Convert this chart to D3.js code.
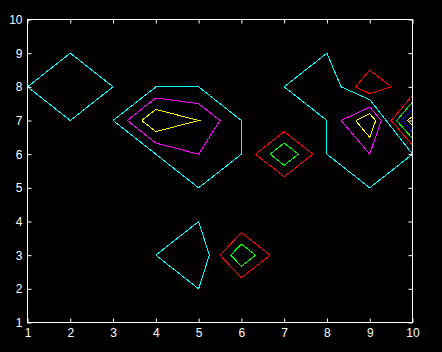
<html>
<head>
<meta charset="utf-8">
<title>contour</title>
<style type="text/css">
    body { margin: 0; background: #000; }
    .tick text { fill: #fff; font-family: "Liberation Sans", Arial, sans-serif; font-size: 12px; }
    .tick line { stroke: #fff; }
</style>
</head>
<body>
<svg id="viz" width="442" height="352"></svg>

<script src="https://d3js.org/d3.v7.min.js"></script>
<script>

// tick values
var xTicks = [1, 2, 3, 4, 5, 6, 7, 8, 9, 10];
var yTicks = [1, 2, 3, 4, 5, 6, 7, 8, 9, 10];

// contour lines, one array per level colour, vertices in data units
var cyanLines = [
    [[1, 8], [2, 9], [3, 8], [2, 7], [1, 8]],
    [[3, 7], [4, 8], [5, 8], [6, 7], [6, 6], [5, 5], [3, 7]],
    [[4, 3], [5, 4], [5.25, 3], [5, 2], [4, 3]],
    [[7, 8], [8, 9], [8.33, 8], [9, 7.62], [10, 6], [9, 5], [8, 6], [8, 7], [7, 8]]
];
var magentaLines = [
    [[3.33, 7], [4, 7.67], [5, 7.5], [5.5, 7], [5, 6], [4, 6.33], [3.33, 7]],
    [[8.33, 7], [9, 7.4], [9.27, 7], [9, 6], [8.33, 7]]
];
var yellowLines = [
    [[3.67, 7], [4, 7.33], [5, 7], [4, 6.67], [3.67, 7]],
    [[8.67, 7], [9, 7.2], [9.14, 7], [9, 6.5], [8.67, 7]],
    [[10, 7.12], [9.88, 7], [10, 6.86]]
];
var redLines = [
    [[5.5, 3], [6, 3.67], [6.67, 3], [6, 2.33], [5.5, 3]],
    [[6.33, 6], [7, 6.67], [7.67, 6], [7, 5.33], [6.33, 6]],
    [[8.67, 8], [9, 8.5], [9.5, 8], [9, 7.8], [8.67, 8]],
    [[10, 7.75], [9.5, 7], [10, 6.27]]
];
var greenLines = [
    [[5.75, 3], [6, 3.33], [6.33, 3], [6, 2.67], [5.75, 3]],
    [[6.67, 6], [7, 6.33], [7.33, 6], [7, 5.67], [6.67, 6]],
    [[10, 7.55], [9.63, 7], [10, 6.46]]
];
var blueLines = [
    [[10, 7.32], [9.75, 7], [10, 6.66]]
];

var svg = d3.select("#viz");

var x = d3.scaleLinear().domain([1, 10]).range([27.5, 412.5]),
    y = d3.scaleLinear().domain([1, 10]).range([322.5, 19.5]);

svg.append("rect")
    .attr("width", 442).attr("height", 352)
    .attr("fill", "#000");

var line = d3.line()
    .x(function(d) { return x(d[0]); })
    .y(function(d) { return y(d[1]); });

var levels = [
    {lines: cyanLines, color: "#00ffff"},
    {lines: magentaLines, color: "#ff00ff"},
    {lines: yellowLines, color: "#ffff00"},
    {lines: redLines, color: "#ff0000"},
    {lines: greenLines, color: "#00ff00"},
    {lines: blueLines, color: "#0000ff"}
];

var plot = svg.append("g").attr("class", "contours");
levels.forEach(function(lev) {
    plot.selectAll(null)
        .data(lev.lines)
        .enter()
        .append("path")
        .attr("d", line)
        .attr("fill", "none")
        .attr("stroke", lev.color)
        .attr("stroke-width", 1)
        .style("shape-rendering", "crispEdges");
});

// axes, ticks pointing inward like matlab
svg.append("g")
    .attr("transform", "translate(0,322.5)")
    .call(d3.axisBottom(x).tickValues(xTicks).tickSizeInner(-4).tickSizeOuter(0).tickPadding(6))
    .call(function(g) { g.select(".domain").remove(); });

svg.append("g")
    .attr("transform", "translate(27.5,0)")
    .call(d3.axisLeft(y).tickValues(yTicks).tickSizeInner(-4).tickSizeOuter(0).tickPadding(5))
    .call(function(g) { g.select(".domain").remove(); });

svg.append("g")
    .attr("transform", "translate(0,19.5)")
    .call(d3.axisTop(x).tickValues(xTicks).tickSizeInner(-4).tickSizeOuter(0).tickFormat(""))
    .call(function(g) { g.select(".domain").remove(); });

svg.append("g")
    .attr("transform", "translate(412.5,0)")
    .call(d3.axisRight(y).tickValues(yTicks).tickSizeInner(-4).tickSizeOuter(0).tickFormat(""))
    .call(function(g) { g.select(".domain").remove(); });

svg.append("rect")
    .attr("x", x(1)).attr("y", y(10))
    .attr("width", x(10) - x(1)).attr("height", y(1) - y(10))
    .attr("fill", "none")
    .attr("stroke", "#fff")
    .attr("stroke-width", 1);

</script>
</body>
</html>
